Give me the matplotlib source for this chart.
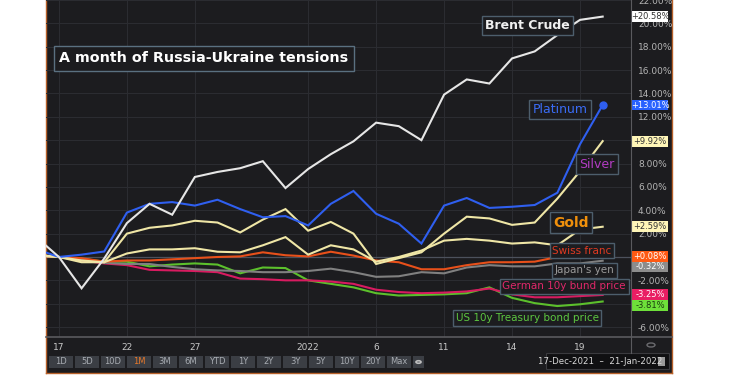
import matplotlib
matplotlib.use("Agg")
import matplotlib.pyplot as plt
from matplotlib.patches import Rectangle, Circle
from matplotlib.lines import Line2D
import matplotlib.transforms as mtransforms
import numpy as np

# trading days, Dec 16 2021 .. Jan 20 2022 (base = Dec 17)
days = np.arange(-1, 25)
tick_pos = [0, 3, 6, 11, 14, 17, 20, 23]
tick_lab = ['17', '22', '27', '2022', '6', '11', '14', '19']

brent = [1.7, 0, -2.68, -0.13, 2.9, 4.55, 3.62, 6.85, 7.28, 7.6, 8.2, 5.9, 7.53,
         8.8, 9.9, 11.5, 11.2, 10.0, 13.9, 15.2, 14.85, 17.0, 17.6, 19.0, 20.3, 20.58]
platinum = [0.67, 0, 0.2, 0.47, 3.8, 4.55, 4.7, 4.4, 4.9, 4.1, 3.4, 3.5, 2.7,
            4.55, 5.65, 3.7, 2.85, 1.15, 4.4, 5.05, 4.2, 4.3, 4.45, 5.5, 9.65, 13.01]
silver = [0.2, 0, -0.45, -0.45, 2.0, 2.5, 2.7, 3.1, 2.95, 2.1, 3.2, 4.1, 2.25,
          3.0, 2.0, -0.6, -0.1, 0.4, 2.0, 3.45, 3.3, 2.75, 2.95, 5.0, 7.35, 9.92]
gold = [0.1, 0, -0.3, -0.45, 0.3, 0.65, 0.65, 0.75, 0.45, 0.4, 1.0, 1.7, 0.2,
        1.0, 0.65, -0.4, 0.0, 0.55, 1.4, 1.55, 1.4, 1.15, 1.25, 1.0, 2.35, 2.59]
swiss = [0.1, 0, -0.1, -0.4, -0.3, -0.3, -0.2, -0.1, 0.0, 0.05, 0.4, 0.15, 0.05,
         0.45, 0.12, -0.3, -0.45, -1.05, -1.05, -0.7, -0.45, -0.45, -0.4, 0.0, 0.05, 0.08]
yen = [0.05, 0, -0.2, -0.5, -0.6, -0.6, -0.85, -1.05, -1.15, -1.2, -1.3, -1.3, -1.2,
       -1.0, -1.3, -1.7, -1.65, -1.3, -1.4, -0.9, -0.7, -0.8, -0.8, -0.55, -0.55, -0.32]
bund = [0.08, 0, -0.3, -0.55, -0.7, -1.1, -1.15, -1.2, -1.3, -1.85, -1.9, -2.0, -2.0,
        -2.1, -2.3, -2.8, -3.0, -3.1, -3.05, -2.95, -2.7, -3.2, -3.45, -3.45, -3.35, -3.25]
treasury = [0.05, 0, -0.15, -0.4, -0.4, -0.8, -0.65, -0.55, -0.65, -1.4, -0.9, -0.95, -2.0,
            -2.3, -2.6, -3.1, -3.3, -3.25, -3.2, -3.1, -2.6, -3.5, -3.95, -4.2, -4.05, -3.81]

names = ['Brent Crude', 'Platinum', 'Silver', 'Gold', 'Swiss franc', "Japan's yen",
         'German 10y bund price', 'US 10y Treasury bond price']
series = [brent, platinum, silver, gold, swiss, yen, bund, treasury]
line_col = ['#e6e6e6', '#2f5ff0', '#efe6a6', '#efe6a6', '#e8501a', '#808080', '#d81b60', '#5cc02c']
text_col = ['#f0f0f0', '#3a6cf5', '#b23cc4', '#f0900c', '#e03a22', '#9a9a9a', '#e0286a', '#5cc640']
tag_bg = ['#ffffff', '#2962ff', '#fff6b8', '#fff6b8', '#ff5a14', '#8c8c8c', '#e91e63', '#6ee03a']
tag_fg = ['#333333', '#ffffff', '#333333', '#333333', '#ffffff', '#ffffff', '#ffffff', '#1a3a10']
# label box centres (day index, %)
lab_pos = [(20.66, 19.8), (22.12, 12.64), (23.75, 7.96), (22.6, 2.94),
           (23.09, 0.55), (23.18, -1.15), (22.3, -2.51), (20.66, -5.23)]
lab_bold = [True, False, False, True, False, False, False, False]
lab_size = [9, 9, 9, 10, 7.5, 7.5, 7.5, 7.5]

W, H = 750, 375
bg = '#1c1c1f'

def fx(x):
    return x / W

def fy(y):
    return 1 - y / H

fig = plt.figure(figsize=(7.5, 3.75), dpi=100, facecolor='white')

# dark panel
panel = fig.add_axes([fx(46), fy(373), fx(672 - 46), (373) / H])
panel.set_facecolor(bg)
panel.set_xticks([])
panel.set_yticks([])
for s in panel.spines.values():
    s.set_color('#b8612a')
    s.set_linewidth(1.0)
panel.spines['top'].set_visible(False)

ax = fig.add_axes([fx(46), fy(337), fx(631 - 46), 337 / H])
ax.set_facecolor('none')
ax.set_xlim(-0.57, 25.25)
ax.set_ylim(-6.85, 21.83)
for s in ax.spines.values():
    s.set_visible(False)

yt = np.arange(-6, 23, 2)
hidden = [10, 0, -4]  # covered by the value tags
ax.set_yticks(yt)
ax.set_yticklabels(['' if v in hidden else '%.2f%%' % v for v in yt])
ax.yaxis.tick_right()
ax.tick_params(axis='y', length=0, pad=5, labelsize=6.5, labelcolor='#b4b4b4')
ax.set_xticks(tick_pos)
ax.set_xticklabels(tick_lab)
ax.tick_params(axis='x', length=0, pad=4, labelsize=6.5, labelcolor='#c8c8c8')
ax.grid(True, color='#2c2d32', lw=0.7)
ax.set_axisbelow(True)
ax.axhline(0, color='#4c515c', lw=0.9, zorder=1)

for i in range(len(series)):
    ax.plot(days, series[i], color=line_col[i], lw=1.5, zorder=3 + (8 - i) * 0.1,
            solid_joinstyle='miter')
ax.plot(days[-1], platinum[-1], 'o', color=line_col[1], ms=5, zorder=4)

for i in range(len(names)):
    ax.text(lab_pos[i][0], lab_pos[i][1], names[i], color=text_col[i], ha='center',
            va='center', fontsize=lab_size[i], fontweight='bold' if lab_bold[i] else 'normal',
            zorder=6, bbox=dict(boxstyle='square,pad=0.25', fc=bg, ec='#4d5e6c', lw=1))

# value tags on the right axis, pushed apart so they do not overlap
trans = mtransforms.blended_transform_factory(ax.transAxes, ax.transData)
last = [s[-1] for s in series]
order = np.argsort(last)[::-1]
gap = 11 / 11.75
tag_y = {}
prev = None
for k in order:
    y = last[k]
    if prev is not None and prev - y < gap:
        y = prev - gap
    tag_y[k] = y
    prev = y
tw = 36 / 585
for k in range(len(series)):
    y = tag_y[k]
    ax.add_patch(Rectangle((1.002, y - gap / 2), tw, gap, transform=trans, fc=tag_bg[k],
                           ec='none', clip_on=False, zorder=7))
    ax.text(1.002 + tw / 2, y, '%+.2f%%' % last[k], transform=trans, ha='center', va='center',
            fontsize=6, color=tag_fg[k], zorder=8, clip_on=False)

# title
fig.text(fx(204), fy(58.5), 'A month of Russia-Ukraine tensions', color='white', fontsize=10.3,
         fontweight='bold', ha='center', va='center', family='DejaVu Sans',
         bbox=dict(boxstyle='square,pad=0.35', fc=bg, ec='#5a7080', lw=1))

# frame lines
fig.add_artist(Line2D([fx(46), fx(672)], [fy(337), fy(337)], color='#5a5a5e', lw=1.2))
fig.add_artist(Line2D([fx(631), fx(631)], [fy(0), fy(353)], color='#5a5a5e', lw=0.8))
fig.add_artist(Circle((fx(651), fy(345)), 4 / W, transform=fig.transFigure, fc='none',
                      ec='#6a6a6e', lw=1))

# range buttons
buttons = ['1D', '5D', '10D', '1M', '3M', '6M', 'YTD', '1Y', '2Y', '3Y', '5Y', '10Y', '20Y', 'Max']
for j, b in enumerate(buttons):
    x0 = 49 + j * 26
    fig.add_artist(Rectangle((fx(x0), fy(368)), 24 / W, 12 / H, transform=fig.transFigure,
                             fc='#3b3e44', ec='none'))
    fig.text(fx(x0 + 12), fy(362), b, color='#e8782a' if b == '1M' else '#a8acb2',
             fontsize=6, ha='center', va='center')
fig.add_artist(Rectangle((fx(413), fy(368)), 11 / W, 12 / H, transform=fig.transFigure,
                         fc='#3b3e44', ec='none'))
fig.add_artist(Circle((fx(418.5), fy(362)), 2.5 / W, transform=fig.transFigure, fc='none',
                      ec='#c0c0c0', lw=1.2))

# date range box
fig.add_artist(Rectangle((fx(546), fy(369)), 123 / W, 16 / H, transform=fig.transFigure,
                         fc='#101012', ec='#3a3a3e', lw=0.8))
fig.text(fx(600), fy(361), '17-Dec-2021  \u2013  21-Jan-2022', color='#d8d8d8', fontsize=6.2,
         ha='center', va='center')
fig.add_artist(Rectangle((fx(658), fy(366)), 7 / W, 9 / H, transform=fig.transFigure,
                         fc='#9a9a9a', ec='none'))

fig.savefig('out.png', dpi=100, facecolor='white')
